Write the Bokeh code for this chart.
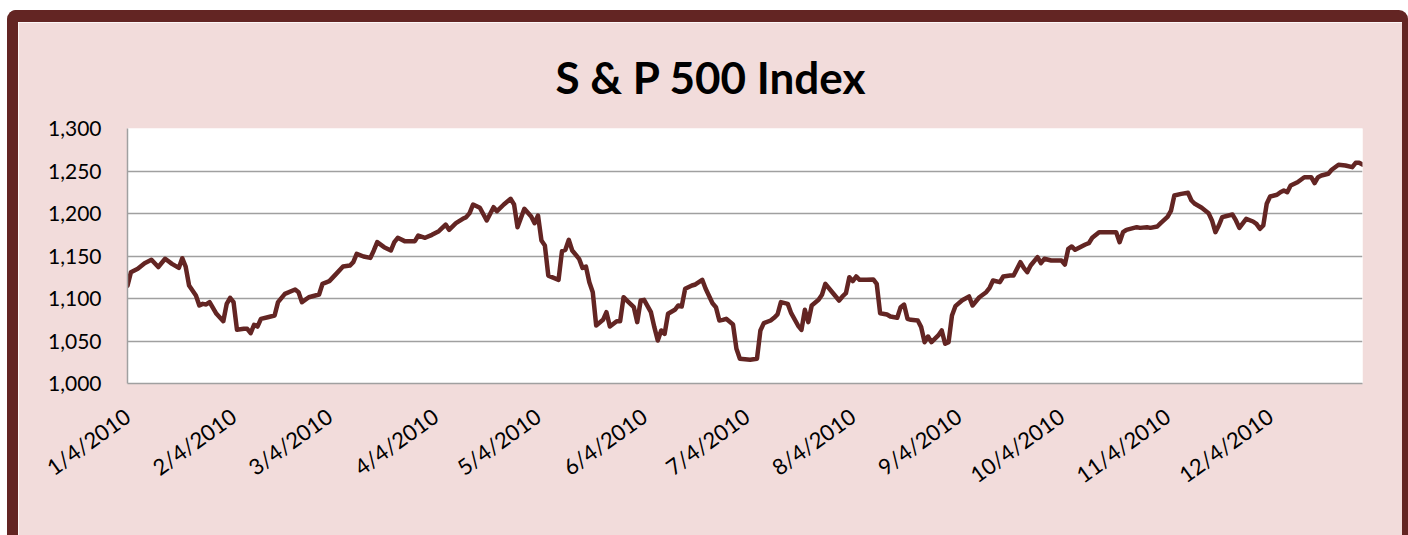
import pandas as pd
from bokeh.plotting import figure
from bokeh.models import ColumnDataSource, Range1d, FixedTicker, NumeralTickFormatter
from bokeh.embed import file_html
from bokeh.resources import INLINE

# ---------------- data ----------------
dates = [
    "2010-01-04", "2010-01-05", "2010-01-07", "2010-01-09", "2010-01-11", "2010-01-13", "2010-01-15",
    "2010-01-17", "2010-01-19", "2010-01-20", "2010-01-21", "2010-01-22", "2010-01-24", "2010-01-25",
    "2010-01-26", "2010-01-27", "2010-01-28", "2010-01-30", "2010-02-01", "2010-02-02", "2010-02-03",
    "2010-02-04", "2010-02-05", "2010-02-07", "2010-02-08", "2010-02-09", "2010-02-10", "2010-02-11",
    "2010-02-12", "2010-02-14", "2010-02-16", "2010-02-17", "2010-02-19", "2010-02-22", "2010-02-23",
    "2010-02-24", "2010-02-26", "2010-03-01", "2010-03-02", "2010-03-04", "2010-03-06", "2010-03-08",
    "2010-03-10", "2010-03-11", "2010-03-12", "2010-03-14", "2010-03-16", "2010-03-17", "2010-03-18",
    "2010-03-20", "2010-03-22", "2010-03-23", "2010-03-24", "2010-03-26", "2010-03-29", "2010-03-30",
    "2010-04-01", "2010-04-03", "2010-04-05", "2010-04-07", "2010-04-08", "2010-04-10", "2010-04-12",
    "2010-04-13", "2010-04-14", "2010-04-15", "2010-04-17", "2010-04-19", "2010-04-21", "2010-04-22",
    "2010-04-24", "2010-04-26", "2010-04-27", "2010-04-28", "2010-04-30", "2010-05-02", "2010-05-03",
    "2010-05-04", "2010-05-05", "2010-05-06", "2010-05-07", "2010-05-10", "2010-05-11", "2010-05-12",
    "2010-05-13", "2010-05-14", "2010-05-16", "2010-05-17", "2010-05-18", "2010-05-19", "2010-05-20",
    "2010-05-21", "2010-05-23", "2010-05-24", "2010-05-25", "2010-05-27", "2010-05-28", "2010-05-29",
    "2010-05-30", "2010-06-01", "2010-06-02", "2010-06-03", "2010-06-04", "2010-06-06", "2010-06-07",
    "2010-06-08", "2010-06-09", "2010-06-10", "2010-06-11", "2010-06-13", "2010-06-14", "2010-06-15",
    "2010-06-16", "2010-06-18", "2010-06-19", "2010-06-20", "2010-06-21", "2010-06-22", "2010-06-24",
    "2010-06-25", "2010-06-26", "2010-06-27", "2010-06-28", "2010-06-30", "2010-07-01", "2010-07-02",
    "2010-07-05", "2010-07-07", "2010-07-08", "2010-07-09", "2010-07-11", "2010-07-12", "2010-07-13",
    "2010-07-14", "2010-07-16", "2010-07-17", "2010-07-19", "2010-07-20", "2010-07-21", "2010-07-22",
    "2010-07-23", "2010-07-25", "2010-07-26", "2010-07-27", "2010-07-29", "2010-07-31", "2010-08-01",
    "2010-08-02", "2010-08-03", "2010-08-04", "2010-08-05", "2010-08-06", "2010-08-08", "2010-08-10",
    "2010-08-11", "2010-08-12", "2010-08-14", "2010-08-15", "2010-08-17", "2010-08-18", "2010-08-19",
    "2010-08-20", "2010-08-21", "2010-08-23", "2010-08-24", "2010-08-25", "2010-08-26", "2010-08-27",
    "2010-08-29", "2010-08-30", "2010-08-31", "2010-09-01", "2010-09-02", "2010-09-03", "2010-09-05",
    "2010-09-07", "2010-09-08", "2010-09-10", "2010-09-12", "2010-09-13", "2010-09-14", "2010-09-16",
    "2010-09-17", "2010-09-19", "2010-09-20", "2010-09-22", "2010-09-23", "2010-09-24", "2010-09-25",
    "2010-09-27", "2010-09-28", "2010-09-29", "2010-10-01", "2010-10-04", "2010-10-05", "2010-10-06",
    "2010-10-07", "2010-10-08", "2010-10-11", "2010-10-12", "2010-10-13", "2010-10-15", "2010-10-18",
    "2010-10-20", "2010-10-21", "2010-10-22", "2010-10-23", "2010-10-26", "2010-10-27", "2010-10-29",
    "2010-10-30", "2010-11-01", "2010-11-02", "2010-11-04", "2010-11-05", "2010-11-06", "2010-11-08",
    "2010-11-10", "2010-11-11", "2010-11-12", "2010-11-14", "2010-11-16", "2010-11-17", "2010-11-18",
    "2010-11-19", "2010-11-20", "2010-11-21", "2010-11-23", "2010-11-24", "2010-11-25", "2010-11-27",
    "2010-11-29", "2010-11-30", "2010-12-01", "2010-12-02", "2010-12-03", "2010-12-04", "2010-12-06",
    "2010-12-07", "2010-12-08", "2010-12-09", "2010-12-10", "2010-12-12", "2010-12-14", "2010-12-16",
    "2010-12-17", "2010-12-18", "2010-12-19", "2010-12-21", "2010-12-22", "2010-12-24", "2010-12-26",
    "2010-12-28", "2010-12-29", "2010-12-30", "2010-12-31",
]

sp500 = [
    1115.0, 1131.0, 1135.0, 1141.5, 1145.5, 1137.0, 1146.7,
    1140.8, 1136.0, 1147.4, 1137.6, 1115.3, 1103.5, 1091.8,
    1093.7, 1093.0, 1095.7, 1082.0, 1073.3, 1093.7, 1100.8,
    1095.7, 1063.2, 1064.3, 1064.3, 1059.2, 1069.0, 1067.0,
    1076.0, 1078.0, 1080.0, 1095.7, 1105.5, 1110.6, 1107.4,
    1095.7, 1101.5, 1104.7, 1117.3, 1120.4, 1129.0, 1137.6,
    1138.8, 1142.7, 1152.6, 1149.4, 1147.8, 1156.5, 1166.3,
    1160.4, 1156.5, 1166.3, 1171.4, 1167.5, 1167.5, 1174.1,
    1171.4, 1174.9, 1179.2, 1187.0, 1180.8, 1188.6, 1193.7,
    1195.7, 1200.4, 1210.6, 1206.7, 1191.8, 1207.4, 1202.7,
    1210.6, 1217.3, 1210.6, 1183.9, 1205.5, 1196.5, 1188.6,
    1197.6, 1168.2, 1162.4, 1127.0, 1122.0, 1155.7, 1157.3,
    1169.0, 1156.5, 1146.7, 1136.0, 1137.6, 1119.2, 1107.4,
    1068.2, 1074.9, 1083.9, 1067.0, 1073.3, 1073.3, 1101.5,
    1097.6, 1089.8, 1072.2, 1097.6, 1098.4, 1083.9, 1066.3,
    1050.6, 1062.4, 1058.4, 1082.0, 1086.7, 1091.8, 1090.6,
    1111.4, 1115.3, 1116.5, 1119.2, 1122.0, 1111.4, 1094.5,
    1089.8, 1074.1, 1074.9, 1076.1, 1069.4, 1040.8, 1029.0,
    1028.0, 1029.0, 1062.4, 1071.0, 1074.1, 1077.3, 1081.2,
    1095.7, 1093.7, 1082.7, 1068.2, 1063.1, 1086.7, 1072.2,
    1091.8, 1098.4, 1104.4, 1117.3, 1107.4, 1097.6, 1102.4,
    1106.2, 1125.1, 1120.4, 1125.9, 1122.0, 1122.0, 1122.4,
    1117.3, 1082.7, 1081.2, 1078.8, 1077.3, 1089.8, 1092.9,
    1076.1, 1074.9, 1074.1, 1066.3, 1048.6, 1055.3, 1048.6,
    1056.5, 1062.4, 1046.7, 1048.6, 1080.0, 1091.0, 1098.0,
    1102.4, 1091.8, 1101.5, 1107.4, 1112.6, 1121.2, 1119.2,
    1125.9, 1127.0, 1127.0, 1142.7, 1136.0, 1131.0, 1138.8,
    1148.6, 1141.5, 1146.7, 1144.7, 1144.7, 1140.0, 1158.5,
    1161.2, 1157.3, 1163.5, 1165.1, 1171.4, 1178.0, 1178.0,
    1178.0, 1166.3, 1178.0, 1180.8, 1183.9, 1183.1, 1183.9,
    1183.1, 1184.7, 1188.6, 1196.0, 1203.0, 1221.2, 1223.1,
    1224.3, 1215.3, 1211.4, 1206.7, 1200.4, 1191.8, 1178.0,
    1185.9, 1195.7, 1196.8, 1198.8, 1191.8, 1183.1, 1193.7,
    1190.6, 1187.8, 1182.0, 1185.9, 1211.4, 1220.0, 1222.0,
    1225.0, 1227.0, 1225.0, 1232.9, 1236.8, 1242.7, 1242.7,
    1235.7, 1242.7, 1244.7, 1246.7, 1251.4, 1257.3, 1256.5,
    1254.5, 1259.6, 1259.6, 1257.5,
]

x_tick_dates = ["2010-01-04", "2010-02-04", "2010-03-04", "2010-04-04", "2010-05-04", "2010-06-04",
                "2010-07-04", "2010-08-04", "2010-09-04", "2010-10-04", "2010-11-04", "2010-12-04"]
x_tick_labels = ["1/4/2010", "2/4/2010", "3/4/2010", "4/4/2010", "5/4/2010", "6/4/2010",
                 "7/4/2010", "8/4/2010", "9/4/2010", "10/4/2010", "11/4/2010", "12/4/2010"]
y_ticks = [1000, 1050, 1100, 1150, 1200, 1250, 1300]

title_text = "S & P 500 Index"

# ---------------- styling ----------------
PINK = "#F2DCDB"
MAROON = "#632523"
GRID = "#A0A0A0"
FONT = "Lato"

source = ColumnDataSource(dict(date=pd.to_datetime(dates), value=sp500))

p = figure(width=1401, height=525, x_axis_type="datetime",
           output_backend="svg", toolbar_location=None,
           x_range=Range1d(pd.Timestamp(dates[0]), pd.Timestamp(dates[-1])),
           y_range=Range1d(y_ticks[0], y_ticks[-1]),
           min_border_left=109, min_border_right=57,
           min_border_top=106, min_border_bottom=164)
p.styles = {
    "margin-left": "7px",
    "margin-top": "10px",
    "border-left": f"11px solid {MAROON}",
    "border-top": f"12px solid {MAROON}",
    "border-right": f"6px solid {MAROON}",
    "border-top-left-radius": "9px",
    "border-top-right-radius": "9px",
}
p.border_fill_color = PINK
p.background_fill_color = "white"
p.outline_line_color = None

p.title.text = title_text
p.title.align = "left"
p.title.offset = 428
p.title.standoff = 51
p.title.text_font = FONT
p.title.text_font_style = "bold"
p.title.text_font_size = "44px"
p.title.text_color = "black"

p.line(x="date", y="value", source=source, line_color=MAROON, line_width=4.5,
       line_join="round", line_cap="round")

# axes
tick_ms = [int(pd.Timestamp(d).value // 10**6) for d in x_tick_dates]
p.xaxis.ticker = FixedTicker(ticks=tick_ms)
p.xaxis.major_label_overrides = {ms: lab for ms, lab in zip(tick_ms, x_tick_labels)}
p.xaxis.major_label_orientation = 0.62
p.xaxis.major_label_standoff = 30
p.yaxis.ticker = FixedTicker(ticks=y_ticks)
p.yaxis.formatter = NumeralTickFormatter(format="0,0")
p.yaxis.major_label_standoff = 26

for ax, size in ((p.xaxis[0], "22px"), (p.yaxis[0], "21px")):
    ax.axis_line_color = GRID
    ax.axis_line_width = 1.5
    ax.major_tick_line_color = None
    ax.minor_tick_line_color = None
    ax.major_tick_out = 0
    ax.major_tick_in = 0
    ax.major_label_text_font = FONT
    ax.major_label_text_font_size = size
    ax.major_label_text_color = "black"

p.xgrid.grid_line_color = None
p.ygrid.grid_line_color = GRID
p.ygrid.grid_line_width = 1.5

open("out.html", "w").write(file_html(p, INLINE))
